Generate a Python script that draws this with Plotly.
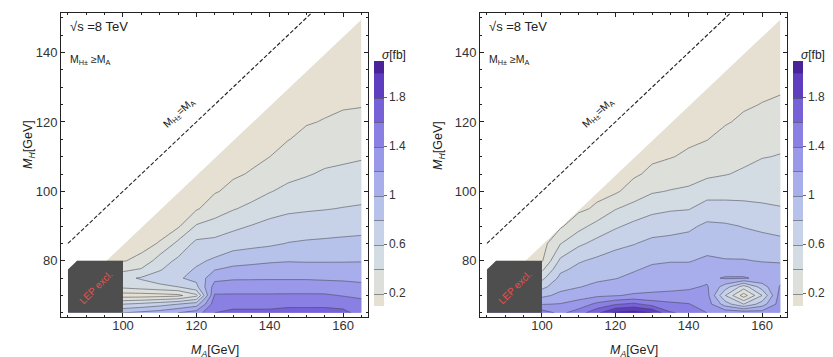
import numpy as np
import plotly.graph_objects as go

# ---------------- data ----------------
ma_vals = [85, 90, 95, 100, 105, 110, 115, 120, 125, 130, 135, 140, 145, 150, 155, 160, 165]
mh_vals = [65, 67.5, 70, 72.5, 75, 77.5, 80, 85, 90, 95, 100, 105, 110, 115, 120, 125, 130, 135, 140, 145, 150]

# cross sections sigma[fb], one list per M_A column (values along M_H rows)
left_cols = [
    [1.0, 0.6, 0.1, 0.45, 0.55, 0.35, 0.19, 0.12, 0.1, 0.09, 0.08, 0.07, 0.06, 0.06, 0.05, 0.05, 0.05, 0.04, 0.04, 0.04, 0.04],
    [1.0, 0.6, 0.1, 0.45, 0.55, 0.35, 0.19, 0.12, 0.1, 0.09, 0.08, 0.07, 0.06, 0.06, 0.05, 0.05, 0.05, 0.04, 0.04, 0.04, 0.04],
    [1.0, 0.6, 0.1, 0.45, 0.55, 0.35, 0.19, 0.12, 0.1, 0.09, 0.08, 0.07, 0.06, 0.06, 0.05, 0.05, 0.05, 0.04, 0.04, 0.04, 0.04],
    [1.0, 0.6, 0.1, 0.45, 0.55, 0.35, 0.19, 0.12, 0.1, 0.09, 0.08, 0.07, 0.06, 0.06, 0.05, 0.05, 0.05, 0.04, 0.04, 0.04, 0.04],
    [1.05, 0.65, 0.1, 0.5, 0.62, 0.42, 0.24, 0.15, 0.11, 0.09, 0.08, 0.07, 0.06, 0.06, 0.05, 0.05, 0.05, 0.04, 0.04, 0.04, 0.04],
    [1.1, 0.72, 0.12, 0.55, 0.7, 0.58, 0.5, 0.21, 0.14, 0.11, 0.09, 0.08, 0.07, 0.06, 0.06, 0.05, 0.05, 0.05, 0.04, 0.04, 0.04],
    [1.2, 0.8, 0.15, 0.6, 0.78, 0.72, 0.64, 0.45, 0.17, 0.13, 0.1, 0.09, 0.08, 0.07, 0.06, 0.06, 0.05, 0.05, 0.05, 0.04, 0.04],
    [1.3, 0.9, 0.35, 0.75, 0.85, 0.82, 0.76, 0.65, 0.42, 0.18, 0.14, 0.1, 0.08, 0.07, 0.06, 0.06, 0.05, 0.05, 0.05, 0.04, 0.04],
    [1.6, 1.51, 1.42, 1.286, 1.143, 0.99, 0.833, 0.662, 0.48, 0.3, 0.185, 0.15, 0.125, 0.1, 0.08, 0.07, 0.06, 0.05, 0.05, 0.04, 0.04],
    [1.65, 1.533, 1.422, 1.3, 1.175, 1.05, 0.919, 0.7125, 0.553, 0.386, 0.243, 0.18, 0.15, 0.125, 0.1, 0.085, 0.07, 0.06, 0.05, 0.04, 0.035],
    [1.65, 1.533, 1.422, 1.3, 1.178, 1.067, 0.947, 0.741, 0.608, 0.448, 0.322, 0.211, 0.17, 0.14, 0.115, 0.095, 0.08, 0.065, 0.055, 0.045, 0.04],
    [1.65, 1.533, 1.422, 1.3, 1.18, 1.08, 0.975, 0.766, 0.654, 0.527, 0.39, 0.295, 0.199, 0.165, 0.135, 0.11, 0.09, 0.075, 0.06, 0.05, 0.04],
    [1.68, 1.55, 1.425, 1.3, 1.18, 1.085, 0.989, 0.807, 0.684, 0.565, 0.447, 0.35, 0.267, 0.195, 0.165, 0.135, 0.11, 0.09, 0.075, 0.06, 0.05],
    [1.68, 1.55, 1.425, 1.3, 1.18, 1.08, 0.984, 0.825, 0.698, 0.58, 0.48, 0.385, 0.311, 0.237, 0.19, 0.16, 0.13, 0.105, 0.085, 0.07, 0.055],
    [1.68, 1.55, 1.425, 1.29, 1.17, 1.075, 0.985, 0.836, 0.708, 0.592, 0.508, 0.424, 0.349, 0.278, 0.207, 0.175, 0.145, 0.12, 0.095, 0.075, 0.06],
    [1.66, 1.525, 1.39, 1.275, 1.164, 1.073, 0.986, 0.847, 0.723, 0.607, 0.523, 0.441, 0.367, 0.3, 0.233, 0.185, 0.155, 0.125, 0.1, 0.08, 0.06],
    [1.52, 1.45, 1.37, 1.25, 1.15, 1.07, 0.99, 0.86, 0.73, 0.62, 0.535, 0.46, 0.384, 0.317, 0.25, 0.19, 0.16, 0.13, 0.11, 0.09, 0.07],
]

right_cols = [
    [1.5, 1.19, 0.95, 0.74, 0.55, 0.36, 0.18, 0.12, 0.1, 0.09, 0.08, 0.07, 0.06, 0.06, 0.05, 0.05, 0.05, 0.04, 0.04, 0.04, 0.04],
    [1.5, 1.19, 0.95, 0.74, 0.55, 0.36, 0.18, 0.12, 0.1, 0.09, 0.08, 0.07, 0.06, 0.06, 0.05, 0.05, 0.05, 0.04, 0.04, 0.04, 0.04],
    [1.5, 1.19, 0.95, 0.74, 0.55, 0.36, 0.18, 0.12, 0.1, 0.09, 0.08, 0.07, 0.06, 0.06, 0.05, 0.05, 0.05, 0.04, 0.04, 0.04, 0.04],
    [1.5, 1.19, 0.95, 0.74, 0.55, 0.36, 0.18, 0.12, 0.1, 0.09, 0.08, 0.07, 0.06, 0.06, 0.05, 0.05, 0.05, 0.04, 0.04, 0.04, 0.04],
    [1.35, 1.21, 1.05, 0.94, 0.85, 0.76, 0.64, 0.39, 0.17, 0.12, 0.1, 0.08, 0.07, 0.06, 0.06, 0.05, 0.05, 0.05, 0.04, 0.04, 0.04],
    [1.5, 1.28, 1.12, 0.99, 0.92, 0.85, 0.78, 0.56, 0.33, 0.16, 0.12, 0.1, 0.08, 0.07, 0.06, 0.06, 0.05, 0.05, 0.05, 0.04, 0.04],
    [1.75, 1.45, 1.16, 1.05, 0.96, 0.9, 0.84, 0.66, 0.47, 0.23, 0.15, 0.11, 0.09, 0.08, 0.07, 0.06, 0.06, 0.05, 0.05, 0.04, 0.04],
    [2.05, 1.58, 1.19, 1.1, 0.99, 0.93, 0.88, 0.75, 0.57, 0.39, 0.17, 0.13, 0.1, 0.09, 0.08, 0.07, 0.06, 0.05, 0.05, 0.04, 0.04],
    [2.1, 1.65, 1.22, 1.13, 1.05, 0.98, 0.92, 0.79, 0.65, 0.47, 0.29, 0.17, 0.13, 0.11, 0.09, 0.08, 0.07, 0.06, 0.05, 0.04, 0.04],
    [2.0, 1.52, 1.23, 1.15, 1.1, 1.04, 0.97, 0.85, 0.7, 0.55, 0.38, 0.24, 0.17, 0.14, 0.11, 0.09, 0.08, 0.07, 0.06, 0.05, 0.04],
    [1.62, 1.45, 1.24, 1.16, 1.1, 1.05, 0.99, 0.87, 0.72, 0.58, 0.41, 0.3, 0.19, 0.15, 0.12, 0.1, 0.08, 0.065, 0.055, 0.045, 0.035],
    [1.55, 1.41, 1.26, 1.17, 1.11, 1.05, 0.99, 0.88, 0.76, 0.59, 0.43, 0.33, 0.23, 0.17, 0.14, 0.11, 0.09, 0.075, 0.06, 0.05, 0.04],
    [1.4, 1.3, 1.27, 1.22, 1.15, 1.12, 1.03, 0.93, 0.84, 0.68, 0.52, 0.36, 0.28, 0.195, 0.16, 0.13, 0.11, 0.09, 0.07, 0.055, 0.045],
    [1.35, 0.9, 0.6, 0.9, 1.22, 1.1, 1.01, 0.92, 0.83, 0.65, 0.55, 0.39, 0.33, 0.26, 0.185, 0.15, 0.12, 0.1, 0.08, 0.065, 0.05],
    [1.35, 0.6, 0.1, 0.5, 1.22, 1.1, 1.01, 0.9, 0.79, 0.65, 0.54, 0.43, 0.35, 0.29, 0.23, 0.18, 0.15, 0.12, 0.1, 0.08, 0.065],
    [1.3, 0.9, 0.6, 0.9, 1.15, 1.07, 0.99, 0.87, 0.76, 0.62, 0.56, 0.49, 0.39, 0.33, 0.27, 0.205, 0.165, 0.135, 0.11, 0.09, 0.07],
    [1.3, 1.3, 1.3, 1.22, 1.14, 1.06, 0.98, 0.85, 0.73, 0.61, 0.54, 0.48, 0.41, 0.35, 0.29, 0.225, 0.18, 0.15, 0.12, 0.1, 0.08],
]

cbar_ticks = [0.2, 0.6, 1.0, 1.4, 1.8]
cbar_ticktext = ["0.2", "0.6", "1", "1.4", "1.8"]
x_ticks = [100, 120, 140, 160]
y_ticks = [80, 100, 120, 140]

# ---------------- styling ----------------
W, H = 833, 357
FONT = "Liberation Sans, Arial, sans-serif"
colorscale = [
    [0.0, "#e5e0d1"], [0.1, "#dddfdb"], [0.2, "#d3dbe3"], [0.3, "#c7d2e8"],
    [0.4, "#b7c2ea"], [0.5, "#a8adeb"], [0.6, "#9a98e8"], [0.7, "#8a7fe2"],
    [0.8, "#7661d6"], [0.9, "#5e3ebf"], [1.0, "#4a2399"],
]

panels = [
    dict(z=np.array(left_cols).T, xa="x", ya="y", off=0, ytitle_x=21),
    dict(z=np.array(right_cols).T, xa="x2", ya="y2", off=419, ytitle_x=431),
]

fig = go.Figure()
shapes, annotations = [], []

for p in panels:
    off = p["off"]
    fig.add_trace(go.Contour(
        x=ma_vals, y=mh_vals, z=p["z"],
        xaxis=p["xa"], yaxis=p["ya"],
        colorscale=colorscale, zmin=0.1, zmax=2.1,
        contours=dict(start=0.2, end=2.0, size=0.2, coloring="fill"),
        line=dict(color="rgba(70,70,80,0.55)", width=1, smoothing=0),
        hoverinfo="skip",
        colorbar=dict(
            x=(366 + off) / W, xanchor="left", xpad=0, ypad=0,
            y=1 - 175 / H, yanchor="middle",
            len=245, lenmode="pixels", thickness=10, thicknessmode="pixels",
            outlinewidth=0, tickvals=cbar_ticks, ticktext=cbar_ticktext,
            ticks="outside", ticklen=3, tickcolor="#666",
            tickfont=dict(size=12, color="#333", family=FONT),
        ),
    ))
    xr, yr = p["xa"], p["ya"]
    # white mask above the kinematic boundary
    shapes.append(dict(type="path", xref=xr, yref=yr, layer="above",
                       path="M 84.9,77.5 L 87.5,80 L 95.5,80 L 165.7,150.2 L 84.9,150.2 Z",
                       fillcolor="white", line=dict(width=0)))
    # LEP exclusion box
    shapes.append(dict(type="path", xref=xr, yref=yr, layer="above",
                       path="M 85,65 L 100,65 L 100,80 L 87.5,80 L 85,77.5 Z",
                       fillcolor="#4e4e4e", line=dict(width=0)))
    # dashed M_H = M_A line
    shapes.append(dict(type="line", xref=xr, yref=yr, layer="above",
                       x0=85, y0=85, x1=151.3, y1=151.3,
                       line=dict(color="#222", width=1.1, dash="4px,2px")))

    annotations += [
        dict(xref=xr, yref=yr, x=85.0, y=147.6, xanchor="left", yanchor="middle",
             text="√s =8 TeV", showarrow=False, font=dict(size=13, color="#222", family=FONT)),
        dict(xref=xr, yref=yr, x=85.0, y=137.8, xanchor="left", yanchor="middle",
             text="M<sub>H±</sub> ≥M<sub>A</sub>", showarrow=False,
             font=dict(size=10.5, color="#222", family=FONT)),
        dict(xref=xr, yref=yr, x=115.3, y=122.6, textangle=-43,
             xanchor="center", yanchor="middle",
             text="M<sub>H±</sub>=M<sub>A</sub>", showarrow=False,
             font=dict(size=10.5, color="#222", family=FONT)),
        dict(xref=xr, yref=yr, x=92.6, y=72.3, textangle=-45,
             xanchor="center", yanchor="middle",
             text="LEP excl.", showarrow=False,
             font=dict(size=10, color="#e8504c", family=FONT)),
        dict(xref="paper", yref="paper", x=(386 + off) / W, y=1 - 47 / H,
             xanchor="center", yanchor="middle",
             text="<i>σ</i>[fb]", showarrow=False,
             font=dict(size=12, color="#222", family=FONT)),
        dict(xref="paper", yref="paper", x=(207 + off) / W, y=1 - 343 / H,
             xanchor="center", yanchor="middle",
             text="<i>M</i><sub><i>A</i></sub>[GeV]", showarrow=False,
             font=dict(size=12.5, color="#222", family=FONT)),
        dict(xref="paper", yref="paper", x=p["ytitle_x"] / W, y=1 - 137 / H,
             xanchor="center", yanchor="middle",
             text="<i>M</i><sub><i>H</i></sub>[GeV]", showarrow=False, textangle=-90,
             font=dict(size=12.5, color="#222", family=FONT)),
    ]

axis_common = dict(
    showline=True, linecolor="#222", linewidth=1, mirror="allticks",
    ticks="inside", ticklen=4, tickcolor="#222", tickwidth=1,
    showgrid=False, zeroline=False, tickmode="array",
    tickfont=dict(size=13, color="#333", family=FONT),
    minor=dict(ticks="inside", ticklen=2, tickcolor="#222", dtick=5, tick0=85, showgrid=False),
)
xaxis_extra = dict(ticklabelstandoff=-4)
ydom = [1 - 309 / H, 1 - 5 / H]
fig.update_layout(
    width=W, height=H, margin=dict(l=0, r=0, t=0, b=0),
    paper_bgcolor="white", plot_bgcolor="white",
    font=dict(family=FONT),
    showlegend=False,
    xaxis=dict(axis_common, **xaxis_extra, domain=[53 / W, 360 / W], range=[83.1, 166.8], tickvals=x_ticks, anchor="y"),
    yaxis=dict(axis_common, domain=ydom, range=[63.8, 151.4], tickvals=y_ticks, anchor="x"),
    xaxis2=dict(axis_common, **xaxis_extra, domain=[472 / W, 779 / W], range=[83.1, 166.8], tickvals=x_ticks, anchor="y2"),
    yaxis2=dict(axis_common, domain=ydom, range=[63.8, 151.4], tickvals=y_ticks, anchor="x2"),
    shapes=shapes, annotations=annotations,
)

fig.write_html("out.html")
